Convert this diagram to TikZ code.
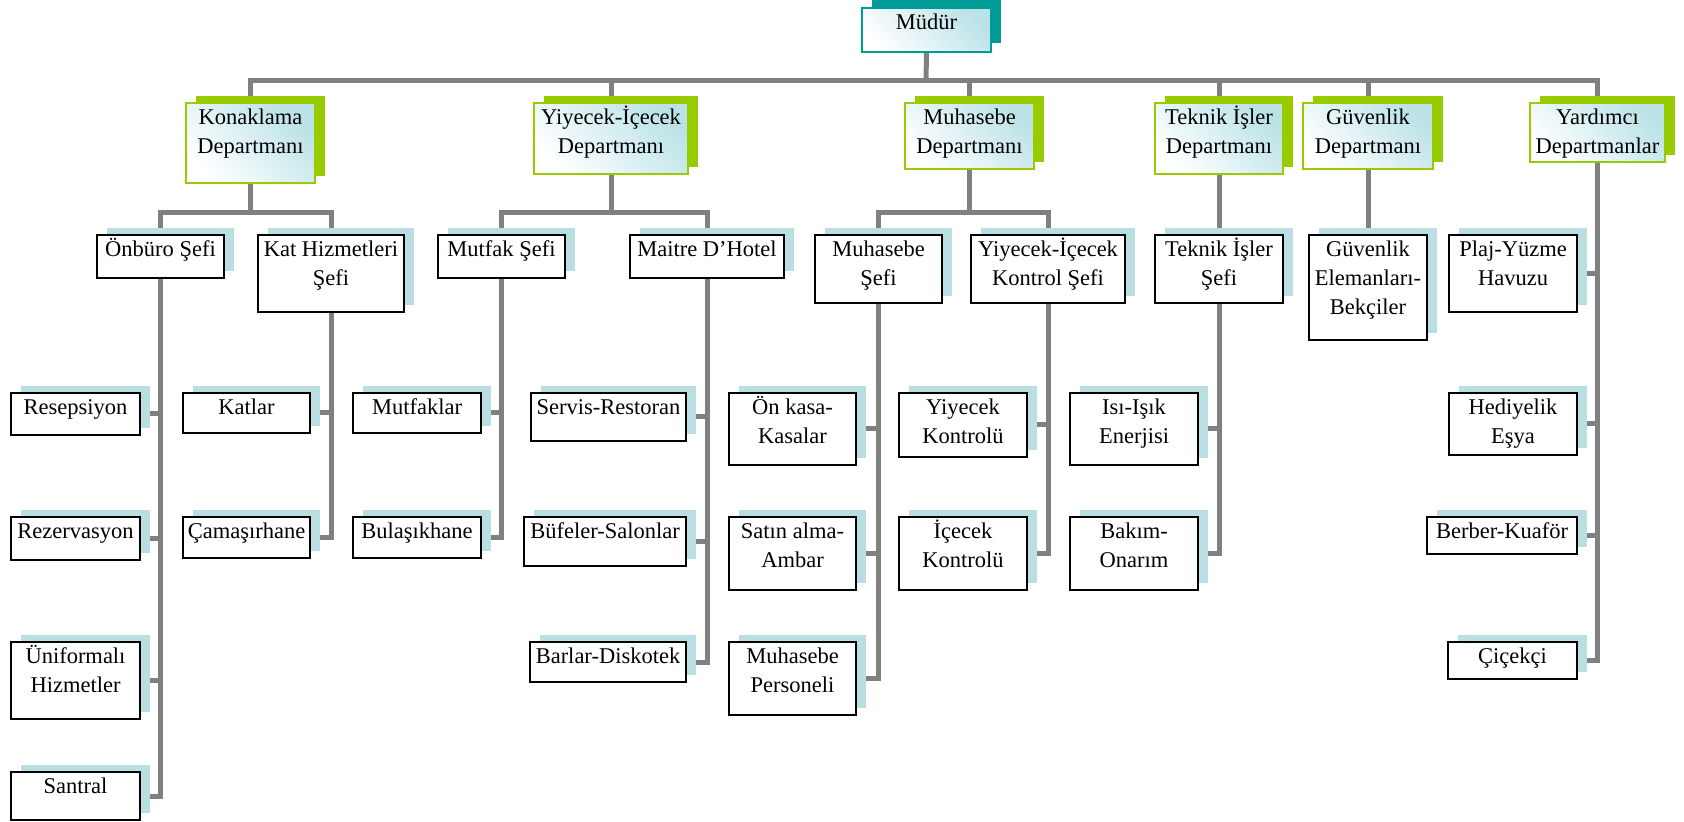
\documentclass[tikz,border=0pt]{standalone}
\usepackage{fontspec}
\setmainfont{Liberation Serif}
\usetikzlibrary{shadows,backgrounds}
\definecolor{teal0}{RGB}{0,155,150}
\definecolor{green0}{RGB}{153,204,0}
\definecolor{shblue}{RGB}{186,223,227}
\definecolor{cyanl}{RGB}{186,226,231}
\definecolor{lgray}{RGB}{128,128,128}
\tikzset{
  basebox/.style={inner sep=0pt, outer sep=0pt, line width=1pt,
    font=\fontsize{11.25}{14.5}\selectfont},
  lvl/.style={basebox, draw=black, fill=white,
    drop shadow={shadow xshift=5pt, shadow yshift=3.5pt, fill=shblue, opacity=1}},
  dept/.style={basebox, draw=green0, top color=cyanl, bottom color=white, shading angle=-45,
    drop shadow={shadow xshift=5pt, shadow yshift=3.5pt, fill=green0, opacity=1}},
  boss/.style={basebox, draw=teal0, top color=cyanl, bottom color=white, shading angle=-45,
    drop shadow={shadow xshift=5pt, shadow yshift=4.5pt, fill=teal0, opacity=1}},
  conn/.style={draw=lgray, line width=2.5pt}
}
% \obox{name}{style}{left}{top}{right}{bottom}{text}  (pixel coordinates)
\newcommand\obox[7]{%
  \pgfmathsetmacro\bw{(#5-#3)*0.5}%
  \pgfmathsetmacro\bh{(#6-#4)*0.5}%
  \node[#2, anchor=north west] (#1) at (#3,#4)
    {\parbox[c][\bh pt][t]{\bw pt}{\centering\rule{0pt}{10.75pt}#7}};%
}
\begin{document}
\begin{tikzpicture}[x=0.5pt, y=-0.5pt]
\useasboundingbox (0,0) rectangle (1684,822);
% top
\obox{mudur}{boss}{862}{8}{991}{52}{Müdür}
% departments
\obox{konak}{dept}{186}{103}{315}{183}{Konaklama\\Departmanı}
\obox{yidept}{dept}{534}{103}{688}{174}{Yiyecek-İçecek\\Departmanı}
\obox{muhdept}{dept}{905}{103}{1034}{169}{Muhasebe\\Departmanı}
\obox{tekdept}{dept}{1155}{103}{1283}{174}{Teknik İşler\\Departmanı}
\obox{guvdept}{dept}{1303}{103}{1433}{169}{Güvenlik\\Departmanı}
\obox{yard}{dept}{1530}{103}{1665}{162}{Yardımcı\\Departmanlar}
% level 2
\obox{onburo}{lvl}{97}{235}{224}{278}{Önbüro Şefi}
\obox{kathiz}{lvl}{258}{235}{404}{312}{Kat Hizmetleri\\Şefi}
\obox{mutsefi}{lvl}{438}{235}{565}{278}{Mutfak Şefi}
\obox{maitre}{lvl}{630}{235}{784}{278}{Maitre D’Hotel}
\obox{muhsefi}{lvl}{815}{235}{942}{303}{Muhasebe\\Şefi}
\obox{yikont}{lvl}{971}{235}{1125}{303}{Yiyecek-İçecek\\Kontrol Şefi}
\obox{teksefi}{lvl}{1155}{235}{1283}{303}{Teknik İşler\\Şefi}
\obox{guvel}{lvl}{1309}{235}{1427}{340}{Güvenlik\\Elemanları-\\Bekçiler}
\obox{plaj}{lvl}{1449}{235}{1577}{312}{Plaj-Yüzme\\Havuzu}
% level 3
\obox{resep}{lvl}{11}{393}{140}{435}{Resepsiyon}
\obox{rezerv}{lvl}{11}{517}{140}{560}{Rezervasyon}
\obox{unif}{lvl}{11}{642}{140}{719}{Üniformalı\\Hizmetler}
\obox{santral}{lvl}{11}{772}{140}{820}{Santral}
\obox{katlar}{lvl}{183}{393}{310}{433}{Katlar}
\obox{camas}{lvl}{183}{517}{310}{558}{Çamaşırhane}
\obox{mutfak}{lvl}{353}{393}{481}{433}{Mutfaklar}
\obox{bulas}{lvl}{353}{517}{481}{558}{Bulaşıkhane}
\obox{servis}{lvl}{531}{393}{686}{441}{Servis-Restoran}
\obox{bufe}{lvl}{524}{517}{686}{566}{Büfeler-Salonlar}
\obox{barlar}{lvl}{530}{642}{686}{682}{Barlar-Diskotek}
\obox{onkasa}{lvl}{729}{393}{856}{465}{Ön kasa-\\Kasalar}
\obox{satin}{lvl}{729}{517}{856}{590}{Satın alma-\\Ambar}
\obox{muhper}{lvl}{729}{642}{856}{715}{Muhasebe\\Personeli}
\obox{yikon}{lvl}{899}{393}{1027}{457}{Yiyecek\\Kontrolü}
\obox{ickon}{lvl}{899}{517}{1027}{590}{İçecek\\Kontrolü}
\obox{isi}{lvl}{1070}{393}{1198}{465}{Isı-Işık\\Enerjisi}
\obox{bakim}{lvl}{1070}{517}{1198}{590}{Bakım-\\Onarım}
\obox{hediye}{lvl}{1449}{393}{1577}{455}{Hediyelik\\Eşya}
\obox{berber}{lvl}{1427}{517}{1577}{554}{Berber-Kuaför}
\obox{cicek}{lvl}{1448}{642}{1577}{679}{Çiçekçi}
% connectors
\coordinate (bus) at (926,81);
\coordinate (sub) at (0,213);
\begin{pgfonlayer}{background}
\draw[conn] (konak.north) |- (bus) -| (yard.north);
\draw[conn] (mudur.south) -- (bus);
\foreach \d in {yidept,muhdept,tekdept,guvdept}
  \draw[conn] (\d.north) -- (\d.north |- bus);
\draw[conn] (onburo.north) |- (konak.south |- sub) -| (kathiz.north);
\draw[conn] (konak.south) -- (konak.south |- sub);
\draw[conn] (mutsefi.north) |- (yidept.south |- sub) -| (maitre.north);
\draw[conn] (yidept.south) -- (yidept.south |- sub);
\draw[conn] (muhsefi.north) |- (muhdept.south |- sub) -| (yikont.north);
\draw[conn] (muhdept.south) -- (muhdept.south |- sub);
\draw[conn] (tekdept.south) -- (teksefi.north);
\draw[conn] (guvdept.south) -- (guvel.north);
\foreach \c in {resep,rezerv,unif,santral} \draw[conn] (onburo.south) |- (\c.east);
\foreach \c in {katlar,camas} \draw[conn] (kathiz.south) |- (\c.east);
\foreach \c in {mutfak,bulas} \draw[conn] (mutsefi.south) |- (\c.east);
\foreach \c in {servis,bufe,barlar} \draw[conn] (maitre.south) |- (\c.east);
\foreach \c in {onkasa,satin,muhper} \draw[conn] (muhsefi.south) |- (\c.east);
\foreach \c in {yikon,ickon} \draw[conn] (yikont.south) |- (\c.east);
\foreach \c in {isi,bakim} \draw[conn] (teksefi.south) |- (\c.east);
\foreach \c in {plaj,hediye,berber,cicek} \draw[conn] (yard.south) |- (\c.east);
\end{pgfonlayer}
\end{tikzpicture}
\end{document}
